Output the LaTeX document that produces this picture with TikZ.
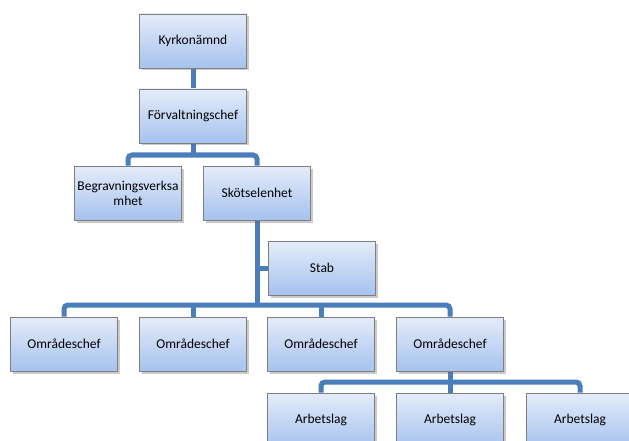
\documentclass[tikz,border=0pt]{standalone}
\usepackage{fontspec}
\setmainfont{Carlito}
\usetikzlibrary{shadows,backgrounds}
\definecolor{linec}{HTML}{4A7EBB}
\definecolor{boxtop}{HTML}{E4ECFA}
\definecolor{boxbot}{HTML}{A6C2EE}
\definecolor{boxline}{HTML}{7F7F7F}
\tikzset{
  orgbox/.style={rectangle, draw=boxline, line width=0.9pt, top color=boxtop, bottom color=boxbot,
    minimum width=107pt, minimum height=54pt, inner sep=1pt, align=center,
    font=\fontsize{13.5}{15}\selectfont,
    drop shadow={shadow xshift=2pt, shadow yshift=-2.5pt, opacity=0.35, fill=black!60}},
  conn/.style={draw=linec, line width=5pt, rounded corners=4pt}
}
\begin{document}
\begin{tikzpicture}[x=1pt,y=-1pt]
\useasboundingbox (0,0) rectangle (629,441);
\clip (0,0) rectangle (629,441);
\node[orgbox] (k) at (193,41) {Kyrkonämnd};
\node[orgbox] (f) at (193,116) {Förvaltningschef};
\node[orgbox] (b) at (128,193) {Begravningsverksa\\mhet};
\node[orgbox] (s) at (257,193) {Skötselenhet};
\node[orgbox] (st) at (322,268) {Stab};
\node[orgbox] (o1) at (64,344) {Områdeschef};
\node[orgbox] (o2) at (193,344) {Områdeschef};
\node[orgbox] (o3) at (321,344) {Områdeschef};
\node[orgbox] (o4) at (450,344) {Områdeschef};
\node[orgbox] (a1) at (321,420) {Arbetslag};
\node[orgbox] (a2) at (450,420) {Arbetslag};
\node[orgbox] (a3) at (580,420) {Arbetslag};
\coordinate (b1) at (193,155);
\coordinate (b2) at (257,305);
\coordinate (b3) at (450,382);
\begin{scope}[on background layer]
\draw[conn] (k.south) -- (f.north);
\draw[conn] (f.south) -- (b1);
\draw[conn] (b.north) |- (b1) -| (s.north);
\draw[conn] (s.south) -- (b2);
\draw[conn] (s.south |- st.west) -- (st.west);
\draw[conn] (o1.north) |- (b2) -| (o4.north);
\draw[conn] (o2.north) -- (o2.north |- b2);
\draw[conn] (o3.north) -- (o3.north |- b2);
\draw[conn] (o4.south) -- (b3);
\draw[conn] (a1.north) |- (b3) -| (a3.north);
\draw[conn] (a2.north) -- (b3);
\end{scope}
\end{tikzpicture}
\end{document}
